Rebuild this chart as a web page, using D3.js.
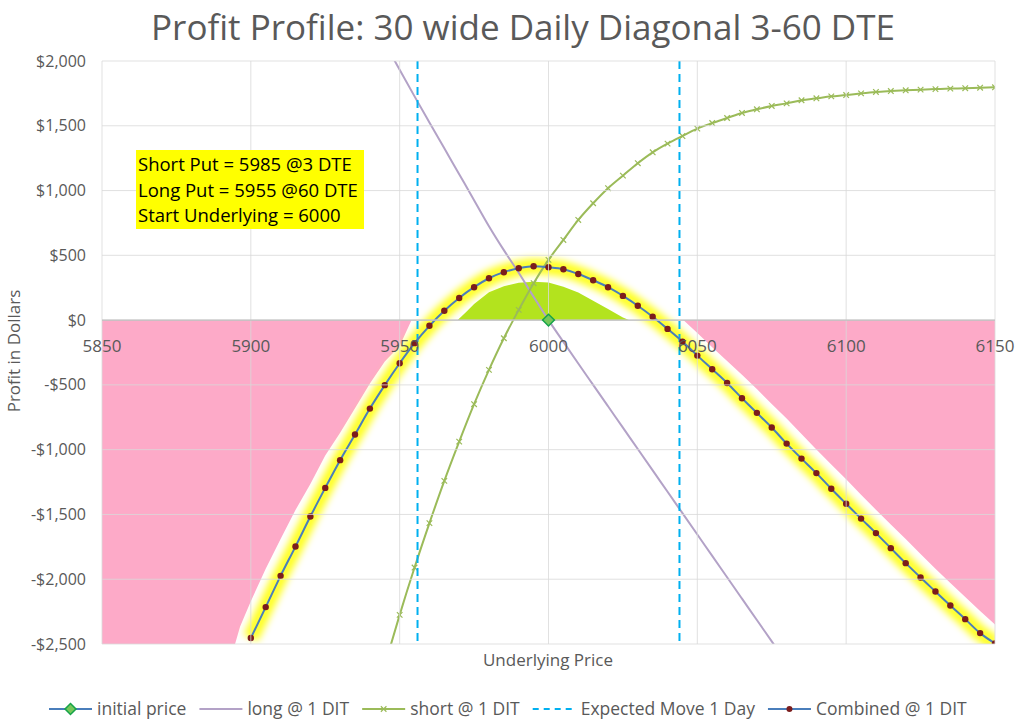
<!DOCTYPE html>
<html>
<head>
<meta charset="utf-8">
<script src="https://cdn.jsdelivr.net/npm/d3@7"></script>
<style>
  body { margin: 0; background: #fff; }
  svg { display: block; font-family: "Open Sans", sans-serif; }
</style>
</head>
<body>
<svg id="chart" width="1024" height="727"></svg>
<script>
// underlying prices, 5 point steps
var prices = [5900, 5905, 5910, 5915, 5920, 5925, 5930, 5935, 5940, 5945,
              5950, 5955, 5960, 5965, 5970, 5975, 5980, 5985, 5990, 5995,
              6000, 6005, 6010, 6015, 6020, 6025, 6030, 6035, 6040, 6045,
              6050, 6055, 6060, 6065, 6070, 6075, 6080, 6085, 6090, 6095,
              6100, 6105, 6110, 6115, 6120, 6125, 6130, 6135, 6140, 6145, 6150];

var longValues = [null, null, null, null, null, null, null, null, 2350, 2140,
                  1932, 1727, 1526, 1326, 1126, 926, 725, 540, 365, 180,
                  0, -168, -335, -500, -665, -830, -995, -1160, -1325, -1490,
                  -1655, -1820, -1985, -2150, -2315, -2480, -2645, null, null, null,
                  null, null, null, null, null, null, null, null, null, null, null];

var shortValues = [null, null, null, null, null, null, null, null, -3060, -2665,
                   -2275, -1910, -1567, -1241, -938, -649, -384, -140, 79, 285,
                   465, 619, 773, 902, 1018, 1115, 1211, 1295, 1362, 1421,
                   1478, 1521, 1560, 1599, 1627, 1653, 1673, 1697, 1712, 1727,
                   1737, 1750, 1761, 1768, 1774, 1779, 1783, 1787, 1790, 1794, 1797];

var combinedValues = [-2454, -2215, -1974, -1748, -1516, -1295, -1081, -883, -683, -502,
                      -333, -178, -44, 72, 171, 254, 323, 370, 400, 416,
                      408, 393, 356, 308, 254, 187, 111, 26, -68, -166,
                      -274, -379, -485, -603, -716, -829, -953, -1069, -1181, -1302,
                      -1418, -1532, -1644, -1760, -1876, -1987, -2095, -2203, -2308, -2416, -2495];

var expectedMove = [5956, 6044];
var initialPrice = 6000;

// shaded zones
var lossLeftPrices = [5850, 5894.7, 5896.4, 5900, 5905, 5910, 5915, 5920, 5925, 5930, 5935, 5940, 5945, 5950, 5954];
var lossLeftValues = [-2500, -2500, -2365, -2170, -1920, -1690, -1465, -1265, -1045, -870, -680, -490, -320, -200, 0];
var lossRightPrices = [6045.3, 6050, 6055, 6060, 6065, 6070, 6075, 6080, 6085, 6090, 6095,
                       6100, 6105, 6110, 6115, 6120, 6125, 6130, 6135, 6140, 6145, 6150];
var lossRightValues = [0, -100, -210, -316, -421, -532, -648, -760, -879, -999, -1114,
                       -1229, -1348, -1464, -1577, -1690, -1806, -1920, -2030, -2138, -2245, -2350];
var profitPrices = [5969.5, 5972.5, 5975, 5980, 5985, 5990, 5995, 6000, 6005, 6010, 6015, 6020, 6025, 6027];
var profitValues = [0, 66, 125, 215, 262, 288, 297, 290, 258, 213, 150, 85, 20, 0];

var xTicks = [5850, 5900, 5950, 6000, 6050, 6100, 6150];
var yTicks = [2000, 1500, 1000, 500, 0, -500, -1000, -1500, -2000, -2500];

var annotation = ["Short Put = 5985 @3 DTE", "Long Put = 5955 @60 DTE", "Start Underlying = 6000"];

var legendItems = [
    {key: "initial", label: "initial price"},
    {key: "long", label: "long @ 1 DIT"},
    {key: "short", label: "short @ 1 DIT"},
    {key: "move", label: "Expected Move 1 Day"},
    {key: "combined", label: "Combined @ 1 DIT"}
];

var colors = {
    text: "#595959",
    grid: "#d9d9d9",
    loss: "#fdaac8",
    profit: "#b3e31e",
    glow: "#ffff00",
    long: "#b3a2c7",
    short: "#9bbb59",
    move: "#00b0f0",
    combined: "#4a7ebb",
    marker: "#7b1d1d",
    diamondFill: "#76c75a",
    diamondStroke: "#16a34a"
};

var margin = {top: 61, right: 29, bottom: 83, left: 102},
    width = 1024 - margin.left - margin.right,
    height = 727 - margin.top - margin.bottom;

var x = d3.scaleLinear().domain([5850, 6150]).range([0, width]);
var y = d3.scaleLinear().domain([-2500, 2000]).range([height, 0]);

var svg = d3.select("#chart");

var defs = svg.append("defs");
defs.append("clipPath").attr("id", "plotClip")
    .append("rect").attr("width", width).attr("height", height);
var blur = defs.append("filter").attr("id", "glowBlur")
    .attr("filterUnits", "userSpaceOnUse")
    .attr("x", -50).attr("y", -50).attr("width", width + 100).attr("height", height + 100);
blur.append("feGaussianBlur").attr("stdDeviation", 3.5);

// title
svg.append("text")
    .attr("x", 523).attr("y", 40)
    .attr("text-anchor", "middle")
    .attr("fill", colors.text)
    .style("font-size", "35px")
    .text("Profit Profile: 30 wide Daily Diagonal 3-60 DTE");

var g = svg.append("g").attr("transform", "translate(" + margin.left + "," + margin.top + ")");
var plot = g.append("g").attr("clip-path", "url(#plotClip)");

function zip(xs, ys) {
    return xs.map(function(p, i) { return {p: p, v: ys[i]}; });
}

var area = d3.area()
    .x(function(d) { return x(d.p); })
    .y0(y(0))
    .y1(function(d) { return y(d.v); });

plot.append("path").datum(zip(lossLeftPrices, lossLeftValues))
    .attr("fill", colors.loss).attr("d", area);
plot.append("path").datum(zip(lossRightPrices, lossRightValues))
    .attr("fill", colors.loss).attr("d", area);
plot.append("path").datum(zip(profitPrices, profitValues))
    .attr("fill", colors.profit).attr("d", area);

// gridlines sit on top of the zones
g.append("g").selectAll("line").data(yTicks).enter().append("line")
    .attr("x1", 0).attr("x2", width)
    .attr("y1", function(d) { return y(d); }).attr("y2", function(d) { return y(d); })
    .attr("stroke", colors.grid).attr("stroke-opacity", 0.8).attr("stroke-width", 1);
g.append("g").selectAll("line").data(xTicks).enter().append("line")
    .attr("y1", 0).attr("y2", height)
    .attr("x1", function(d) { return x(d); }).attr("x2", function(d) { return x(d); })
    .attr("stroke", colors.grid).attr("stroke-opacity", 0.8).attr("stroke-width", 1);

g.append("line")
    .attr("x1", 0).attr("x2", width).attr("y1", y(0)).attr("y2", y(0))
    .attr("stroke", "#bfbfbf").attr("stroke-width", 1.2);

var combined = zip(prices, combinedValues);
var line = d3.line()
    .defined(function(d) { return d.v !== null; })
    .x(function(d) { return x(d.p); })
    .y(function(d) { return y(d.v); })
    .curve(d3.curveMonotoneX);

// soft yellow glow behind the combined line
plot.append("path").datum(combined)
    .attr("fill", "none").attr("stroke", colors.glow)
    .attr("stroke-width", 16).attr("stroke-linejoin", "round")
    .attr("stroke-opacity", 0.85)
    .attr("filter", "url(#glowBlur)")
    .attr("d", line);
plot.append("path").datum(combined)
    .attr("fill", "none").attr("stroke", "#ffff40")
    .attr("stroke-width", 6).attr("stroke-opacity", 0.6)
    .attr("d", line);

// axis labels
g.append("g").selectAll("text").data(xTicks).enter().append("text")
    .attr("x", function(d) { return x(d); })
    .attr("y", y(0) + 32)
    .attr("text-anchor", "middle")
    .attr("fill", colors.text)
    .style("font-size", "17px")
    .text(function(d) { return d; });

var fmt = d3.format(",");
g.append("g").selectAll("text").data(yTicks).enter().append("text")
    .attr("x", -16)
    .attr("y", function(d) { return y(d); })
    .attr("dy", "0.35em")
    .attr("text-anchor", "end")
    .attr("fill", colors.text)
    .style("font-size", "16px")
    .text(function(d) { return (d < 0 ? "-$" : "$") + fmt(Math.abs(d)); });

svg.append("text")
    .attr("transform", "translate(20,351) rotate(-90)")
    .attr("text-anchor", "middle")
    .attr("fill", colors.text)
    .style("font-size", "17px")
    .text("Profit in Dollars");

svg.append("text")
    .attr("x", 548).attr("y", 666)
    .attr("text-anchor", "middle")
    .attr("fill", colors.text)
    .style("font-size", "17px")
    .text("Underlying Price");

// series lines
plot.append("path").datum(zip(prices, longValues))
    .attr("fill", "none").attr("stroke", colors.long).attr("stroke-width", 2)
    .attr("d", line);

var shortData = zip(prices, shortValues);
plot.append("path").datum(shortData)
    .attr("fill", "none").attr("stroke", colors.short).attr("stroke-width", 2)
    .attr("d", line);
plot.append("g").selectAll("path")
    .data(shortData.filter(function(d) { return d.v !== null; }))
    .enter().append("path")
    .attr("transform", function(d) { return "translate(" + x(d.p) + "," + y(d.v) + ")"; })
    .attr("d", d3.symbol().type(d3.symbolTimes).size(22))
    .attr("fill", "none").attr("stroke", colors.short).attr("stroke-width", 1.2);

expectedMove.forEach(function(m) {
    plot.append("line")
        .attr("x1", x(m)).attr("x2", x(m)).attr("y1", 0).attr("y2", height)
        .attr("stroke", colors.move).attr("stroke-width", 2)
        .attr("stroke-dasharray", "8,5");
});

plot.append("path").datum(combined)
    .attr("fill", "none").attr("stroke", colors.combined).attr("stroke-width", 2)
    .attr("d", line);
plot.append("g").selectAll("circle").data(combined).enter().append("circle")
    .attr("cx", function(d) { return x(d.p); })
    .attr("cy", function(d) { return y(d.v); })
    .attr("r", 3.2)
    .attr("fill", colors.marker);

g.append("path")
    .attr("transform", "translate(" + x(initialPrice) + "," + y(0) + ") rotate(45)")
    .attr("d", d3.symbol().type(d3.symbolSquare).size(70))
    .attr("fill", colors.diamondFill).attr("stroke", colors.diamondStroke).attr("stroke-width", 1.5);

// annotation box
var note = svg.append("g");
note.append("rect")
    .attr("x", 136).attr("y", 150).attr("width", 228).attr("height", 79)
    .attr("fill", "#ffff00");
note.selectAll("text").data(annotation).enter().append("text")
    .attr("x", 138)
    .attr("y", function(d, i) { return 171 + i * 25.7; })
    .attr("fill", "#000")
    .style("font-size", "18.5px")
    .text(function(d) { return d; });

// legend
var legend = svg.append("g").attr("transform", "translate(0,709)");
var lx = 49;
legendItems.forEach(function(item) {
    var it = legend.append("g").attr("transform", "translate(" + lx + ",0)");
    var stroke = {initial: colors.combined, long: colors.long, short: colors.short,
                  move: colors.move, combined: colors.combined}[item.key];
    var ln = it.append("line").attr("x1", 0).attr("x2", 43).attr("y1", 0).attr("y2", 0)
        .attr("stroke", stroke).attr("stroke-width", 2);
    if (item.key === "move") ln.attr("stroke-dasharray", "6,5");
    if (item.key === "initial") {
        it.append("path").attr("transform", "translate(21.5,0) rotate(45)")
            .attr("d", d3.symbol().type(d3.symbolSquare).size(60))
            .attr("fill", colors.diamondFill).attr("stroke", colors.diamondStroke).attr("stroke-width", 1.5);
    }
    if (item.key === "short") {
        it.append("path").attr("transform", "translate(21.5,0)")
            .attr("d", d3.symbol().type(d3.symbolTimes).size(22))
            .attr("fill", "none").attr("stroke", colors.short).attr("stroke-width", 1.2);
    }
    if (item.key === "combined") {
        it.append("circle").attr("cx", 21.5).attr("r", 3).attr("fill", colors.marker);
    }
    var t = it.append("text").attr("x", 48).attr("dy", "0.35em")
        .attr("fill", colors.text).style("font-size", "17.5px").text(item.label);
    lx += 48 + t.node().getComputedTextLength() + 13;
});
</script>
</body>
</html>
